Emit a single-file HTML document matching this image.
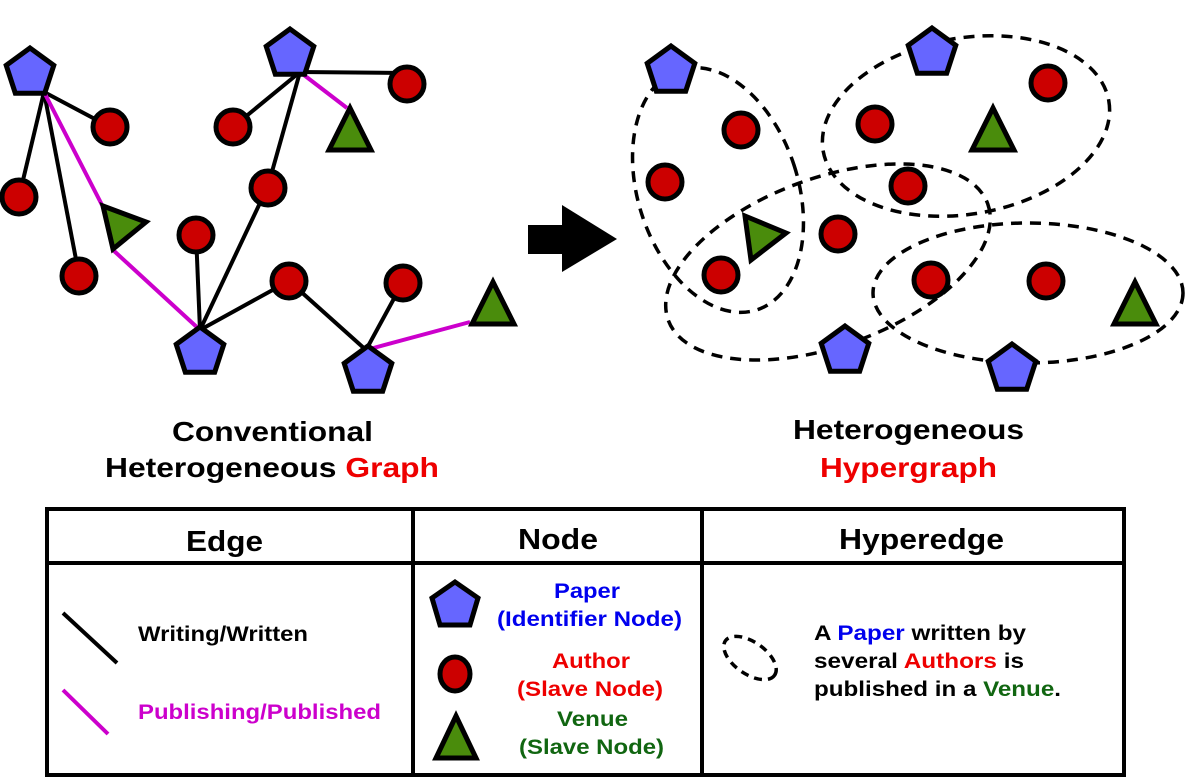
<!DOCTYPE html>
<html><head><meta charset="utf-8"><style>
html,body{margin:0;padding:0;background:#fff;}
svg{display:block;}
text{font-family:"Liberation Sans",Arial,sans-serif;font-weight:bold;}
</style></head><body>
<svg width="1185" height="781" viewBox="0 0 1185 781" xmlns="http://www.w3.org/2000/svg">
<defs>
<polygon id="pent" points="0,-25 23.8,-7.7 14.7,20.2 -14.7,20.2 -23.8,-7.7" fill="#6666ff" stroke="#000" stroke-width="5"/>
<circle id="circ" r="17" fill="#cc0000" stroke="#000" stroke-width="5"/>
<polygon id="tri" points="0,-22 21,20 -21,20" fill="#4a8c0c" stroke="#000" stroke-width="5"/>
</defs>

<g stroke="#000" stroke-width="4" fill="none">
<line x1="44" y1="92" x2="110" y2="127"/>
<line x1="44" y1="92" x2="19" y2="197"/>
<line x1="44" y1="92" x2="79" y2="275"/>
<line x1="300" y1="72" x2="407" y2="73"/>
<line x1="300" y1="72" x2="233" y2="127"/>
<line x1="300" y1="72" x2="268" y2="186"/>
<line x1="200" y1="330" x2="196" y2="234"/>
<line x1="200" y1="330" x2="268" y2="186"/>
<line x1="200" y1="330" x2="289" y2="281"/>
<line x1="289" y1="281" x2="366" y2="350"/>
<line x1="366" y1="350" x2="403" y2="282"/>
</g>
<g stroke="#cc00cc" stroke-width="4" fill="none">
<line x1="44" y1="92" x2="102" y2="205"/>
<line x1="113" y1="250" x2="200" y2="330"/>
<line x1="300" y1="72" x2="347" y2="108"/>
<line x1="366" y1="350" x2="470" y2="322"/>
</g>
<use href="#pent" x="30" y="73"/>
<use href="#pent" x="290" y="54"/>
<use href="#pent" x="200" y="352"/>
<use href="#pent" x="368" y="371"/>
<use href="#circ" x="110" y="127"/>
<use href="#circ" x="233" y="127"/>
<use href="#circ" x="407" y="84"/>
<use href="#circ" x="19" y="197"/>
<use href="#circ" x="268" y="188"/>
<use href="#circ" x="196" y="235"/>
<use href="#circ" x="79" y="276"/>
<use href="#circ" x="289" y="281"/>
<use href="#circ" x="403" y="283"/>
<use href="#tri" x="350" y="130"/>
<use href="#tri" x="493" y="304"/>
<polygon points="103,206 146,222 113,249" fill="#4a8c0c" stroke="#000" stroke-width="5"/>

<rect x="528" y="225" width="36" height="29" fill="#000"/>
<polygon points="562,205 617,239 562,272" fill="#000"/>

<g stroke="#000" stroke-width="3.5" fill="none" stroke-dasharray="11,8">
<ellipse cx="718" cy="190" rx="80" ry="126" transform="rotate(-18 718 190)"/>
<ellipse cx="966" cy="126" rx="145" ry="88" transform="rotate(-10 966 126)"/>
<ellipse cx="828" cy="262" rx="170" ry="84" transform="rotate(-20 828 262)"/>
<ellipse cx="1028" cy="293" rx="155" ry="70"/>
</g>
<use href="#pent" x="671" y="71"/>
<use href="#pent" x="932" y="53"/>
<use href="#pent" x="845" y="351"/>
<use href="#pent" x="1012" y="369"/>
<use href="#circ" x="741" y="130"/>
<use href="#circ" x="665" y="182"/>
<use href="#circ" x="875" y="124"/>
<use href="#circ" x="1048" y="83"/>
<use href="#circ" x="908" y="186"/>
<use href="#circ" x="838" y="234"/>
<use href="#circ" x="721" y="275"/>
<use href="#circ" x="931" y="280"/>
<use href="#circ" x="1046" y="281"/>
<use href="#tri" x="993" y="130"/>
<use href="#tri" x="1135" y="304"/>
<polygon points="745,216 786,233 751,260" fill="#4a8c0c" stroke="#000" stroke-width="5"/>

<text x="172" y="441" font-size="28" textLength="201" lengthAdjust="spacingAndGlyphs">Conventional</text>
<text x="105" y="477" font-size="28" textLength="334" lengthAdjust="spacingAndGlyphs">Heterogeneous <tspan fill="#ee0000">Graph</tspan></text>
<text x="793" y="439" font-size="28" textLength="231" lengthAdjust="spacingAndGlyphs">Heterogeneous</text>
<text x="820" y="477" font-size="28" textLength="177" lengthAdjust="spacingAndGlyphs" fill="#ee0000">Hypergraph</text>

<g stroke="#000" stroke-width="4" fill="none">
<rect x="47" y="509" width="1077" height="266"/>
<line x1="47" y1="563" x2="1124" y2="563"/>
<line x1="413" y1="509" x2="413" y2="775"/>
<line x1="702" y1="509" x2="702" y2="775"/>
</g>
<text x="186" y="551" font-size="29" textLength="77" lengthAdjust="spacingAndGlyphs">Edge</text>
<text x="518" y="549" font-size="29" textLength="80" lengthAdjust="spacingAndGlyphs">Node</text>
<text x="839" y="549" font-size="29" textLength="165" lengthAdjust="spacingAndGlyphs">Hyperedge</text>

<line x1="63" y1="613" x2="117" y2="663" stroke="#000" stroke-width="4"/>
<line x1="63" y1="690" x2="108" y2="734" stroke="#cc00cc" stroke-width="4"/>
<text x="138" y="641" font-size="21" textLength="170" lengthAdjust="spacingAndGlyphs">Writing/Written</text>
<text x="138" y="719" font-size="21" textLength="243" lengthAdjust="spacingAndGlyphs" fill="#cc00cc">Publishing/Published</text>

<polygon points="455,582 478,598 470,625 440,625 432,598" fill="#6666ff" stroke="#000" stroke-width="5"/>
<ellipse cx="455" cy="674" rx="15" ry="17" fill="#cc0000" stroke="#000" stroke-width="5"/>
<polygon points="456,716 476,758 436,758" fill="#4a8c0c" stroke="#000" stroke-width="5"/>
<text x="554" y="598" font-size="21" textLength="66" lengthAdjust="spacingAndGlyphs" fill="#0000ee">Paper</text>
<text x="497" y="626" font-size="21" textLength="185" lengthAdjust="spacingAndGlyphs" fill="#0000ee">(Identifier Node)</text>
<text x="552" y="668" font-size="21" textLength="78" lengthAdjust="spacingAndGlyphs" fill="#ee0000">Author</text>
<text x="517" y="696" font-size="21" textLength="146" lengthAdjust="spacingAndGlyphs" fill="#ee0000">(Slave Node)</text>
<text x="557" y="726" font-size="21" textLength="71" lengthAdjust="spacingAndGlyphs" fill="#116611">Venue</text>
<text x="519" y="754" font-size="21" textLength="145" lengthAdjust="spacingAndGlyphs" fill="#116611">(Slave Node)</text>

<ellipse cx="750" cy="658" rx="30" ry="16" transform="rotate(35 750 658)" fill="none" stroke="#000" stroke-width="3.5" stroke-dasharray="8,6"/>
<text x="814" y="640" font-size="21" textLength="212" lengthAdjust="spacingAndGlyphs">A <tspan fill="#0000ee">Paper</tspan> written by</text>
<text x="814" y="668" font-size="21" textLength="210" lengthAdjust="spacingAndGlyphs">several <tspan fill="#ee0000">Authors</tspan> is</text>
<text x="814" y="696" font-size="21" textLength="247" lengthAdjust="spacingAndGlyphs">published in a <tspan fill="#116611">Venue</tspan>.</text>
</svg>
</body></html>
